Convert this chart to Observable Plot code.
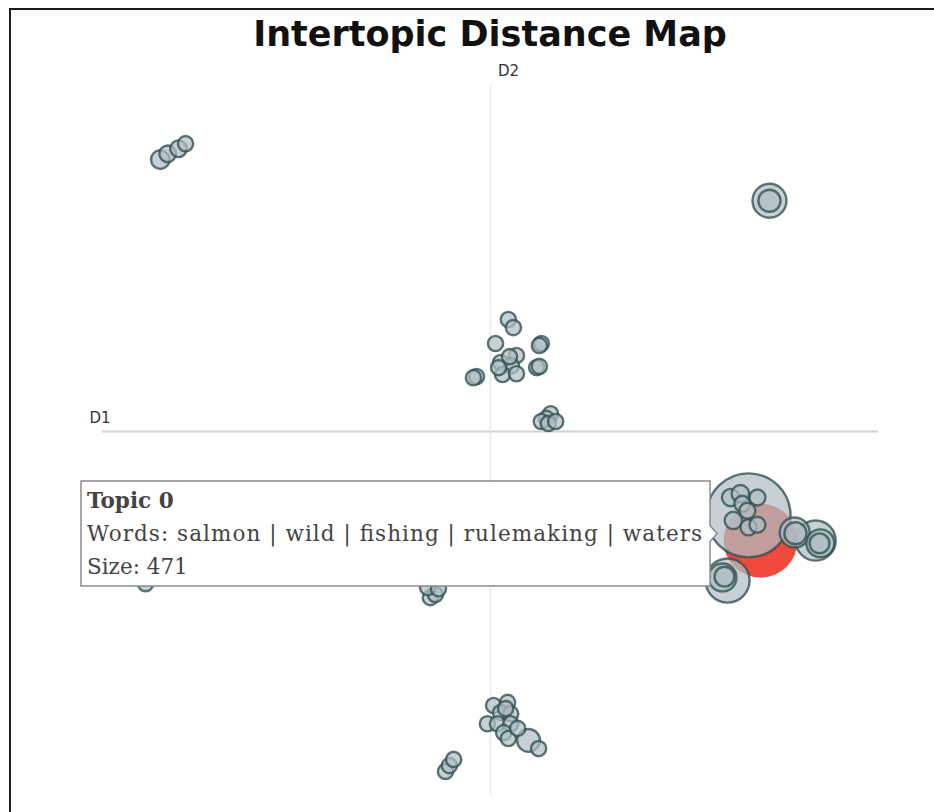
<!DOCTYPE html>
<html>
<head>
<meta charset="utf-8">
<script src="https://cdn.jsdelivr.net/npm/d3@7"></script>
<script src="https://cdn.jsdelivr.net/npm/@observablehq/plot@0.6"></script>
<style>
html, body { margin: 0; padding: 0; background: #fff; }
#page { position: relative; width: 934px; height: 812px; overflow: hidden; background: #fff; }
#frame { position: absolute; left: 9px; top: 8px; right: -20px; bottom: -20px;
  border-left: 2px solid #1c1c1c; border-top: 2px solid #1c1c1c; pointer-events: none; }
#title { position: absolute; left: 0; top: 14px; width: 980px; text-align: center;
  font-family: "DejaVu Sans", sans-serif; font-weight: bold; font-size: 35px; line-height: 41px; color: #111; }
#chart { position: absolute; left: 0; top: 62px; }
</style>
</head>
<body>
<div id="page">
  <div id="title">Intertopic Distance Map</div>
  <div id="chart"></div>
  <div id="frame"></div>
</div>
<script>
// ---- data (topic coordinates in the 2-D embedding, topic sizes) ----
const axisLabels = ["D1", "D2"];
const selectedTopic = { topic: 0, x: 6.96, y: -2.81, size: 471 };
const tooltipTitle = "Topic 0";
const tooltipWords = ["salmon", "wild", "fishing", "rulemaking", "waters"];
const tooltipSize = 471;

const topicX = [
  6.65, 6.19, 6.44, 6.49, 6.88, 6.26, 6.65, 6.88, 6.62,
  7.84, 7.86, 8.38, 8.50, 8.48,
  6.11, 5.98, 6.03,
  7.19, 7.19,
  -8.51, -8.32, -8.04, -7.86,
  0.46, 0.59, 0.13, 1.31, 1.26, 0.67, 0.26, 0.54, 0.31, 0.67, -0.36, -0.44, 1.19, 1.26, 0.21, 0.49,
  1.55, 1.44, 1.31, 1.49, 1.68,
  -8.89,
  -1.55, -1.42, -1.62, -1.34,
  0.08, 0.44, 0.26, 0.52, -0.08, 0.18, 0.52, 0.34, 0.46, 0.70, 0.98, 1.24, 0.39,
  -1.16, -1.06, -0.95
];
const topicY = [
  -2.16, -1.70, -1.60, -1.86, -1.70, -2.29, -2.47, -2.40, -2.04,
  -2.60, -2.62, -2.81, -2.88, -2.88,
  -3.84, -3.76, -3.74,
  5.95, 5.95,
  7.01, 7.16, 7.29, 7.42,
  2.89, 2.68, 2.27, 2.27, 2.22, 1.96, 1.78, 1.70, 1.47, 1.49, 1.42, 1.39, 1.65, 1.68, 1.65, 1.93,
  0.46, 0.34, 0.26, 0.21, 0.26,
  -3.92,
  -4.28, -4.20, -4.02, -4.05,
  -7.06, -6.98, -7.24, -7.27, -7.53, -7.53, -7.53, -7.76, -7.91, -7.65, -7.96, -8.17, -7.14,
  -8.76, -8.61, -8.45
];
const topicSize = [
  607, 26, 26, 22, 22, 26, 22, 22, 22,
  77, 42, 138, 67, 34,
  167, 67, 34,
  99, 42,
  30, 24, 24, 20,
  20, 20, 20, 20, 20, 20, 20, 20, 20, 20, 20, 20, 20, 20, 20, 20,
  20, 20, 20, 20, 20,
  20,
  20, 20, 20, 20,
  20, 20, 20, 20, 20, 20, 20, 20, 20, 20, 45, 20, 20,
  20, 20, 20
];

const topics = topicX.map((x, i) => ({ topic: i + 1, x, y: topicY[i], size: topicSize[i] }));
const labelData = [
  { x: -10, y: 0, label: axisLabels[0] },
  { x: 0, y: 8.92, label: axisLabels[1] }
];

const plot = Plot.plot({
  width: 934,
  height: 750,
  marginLeft: 102,
  marginRight: 56,
  marginTop: 23,
  marginBottom: 17,
  style: { background: "transparent", overflow: "visible" },
  x: { domain: [-10, 10], axis: null },
  y: { domain: [-9.38, 8.92], axis: null },
  r: { type: "sqrt", domain: [0, 471], range: [0, 37] },
  marks: [
    Plot.ruleY([0], { stroke: "#d2d2d2", strokeWidth: 2 }),
    Plot.ruleX([0], { stroke: "#e9e9e9", strokeWidth: 1.5 }),
    Plot.text(labelData.slice(0, 1), { x: "x", y: "y", text: "label", textAnchor: "start", dx: -13, dy: -13,
      fontSize: 15, fontFamily: "DejaVu Sans, sans-serif", fill: "#333" }),
    Plot.text(labelData.slice(1), { x: "x", y: "y", text: "label", textAnchor: "middle", dx: 18, dy: -14,
      fontSize: 15, fontFamily: "DejaVu Sans, sans-serif", fill: "#333" }),
    Plot.dot([selectedTopic], { x: "x", y: "y", r: "size", fill: "#ef4a3c", stroke: "none" }),
    Plot.dot(topics, { x: "x", y: "y", r: "size", fill: "#B0BEC5", fillOpacity: 0.72,
      stroke: "#2F4F4F", strokeOpacity: 0.78, strokeWidth: 2.4 })
  ]
});
document.getElementById("chart").appendChild(plot);

// ---- hover label anchored on the selected topic via the plot's scales ----
const sx = plot.scale("x"), sy = plot.scale("y"), sr = plot.scale("r");
const px = sx.apply(selectedTopic.x), py = sy.apply(selectedTopic.y), pr = sr.apply(selectedTopic.size);
const tipX = px - pr - 6;
const boxRight = tipX - 7;
const boxLeft = 81;
const boxTop = py - 59;
const boxBottom = py + 46;
const boxMid = (boxTop + boxBottom) / 2;
const g = d3.select(plot).append("g").attr("text-anchor", "start");
g.append("path")
  .attr("d", `M${boxLeft},${boxTop}H${boxRight}V${boxMid - 8}L${tipX},${boxMid}L${boxRight},${boxMid + 8}V${boxBottom}H${boxLeft}Z`)
  .attr("fill", "#fff").attr("stroke", "#8a8a8a").attr("stroke-width", 1.5);
const tipLines = [
  { t: tooltipTitle, bold: true },
  { t: "Words: " + tooltipWords.join(" | "), bold: false, len: boxRight - boxLeft - 14 },
  { t: "Size: " + tooltipSize, bold: false }
];
tipLines.forEach((l, i) => {
  const t = g.append("text")
    .attr("x", boxLeft + 6)
    .attr("y", boxTop + 27 + i * 33)
    .attr("text-anchor", "start")
    .attr("font-family", "DejaVu Serif, serif")
    .attr("font-size", 21.5)
    .attr("font-weight", l.bold ? "bold" : "normal")
    .attr("fill", "#444")
    .text(l.t);
  if (l.len) t.attr("textLength", l.len).attr("lengthAdjust", "spacing");
});
</script>
</body>
</html>
